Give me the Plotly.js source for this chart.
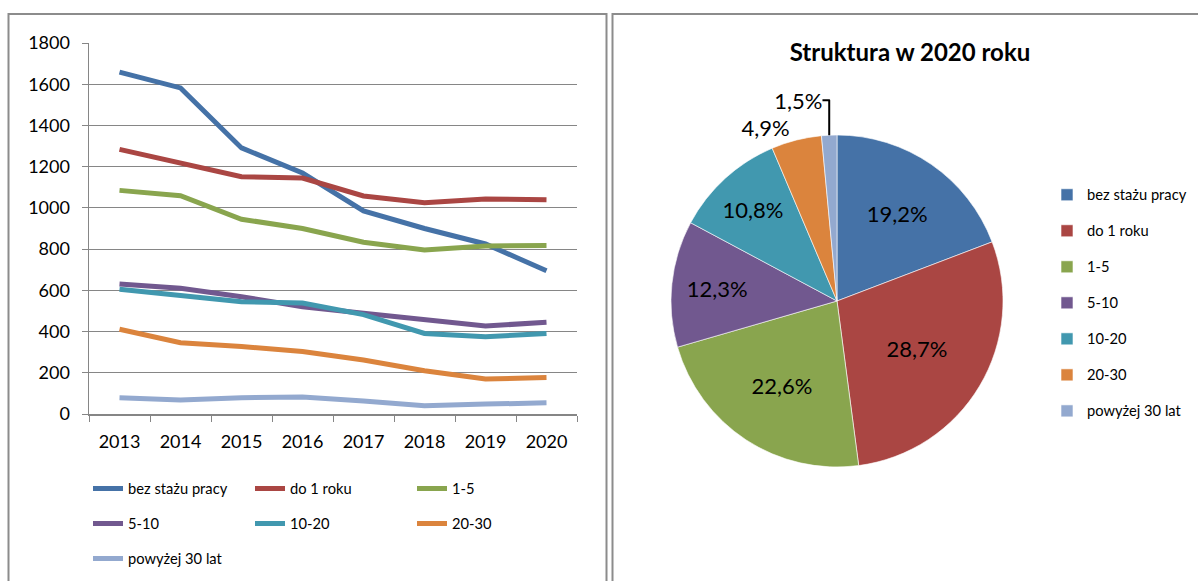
<!DOCTYPE html>
<html><head><meta charset="utf-8">
<script src="https://cdn.plot.ly/plotly-3.0.1.min.js"></script>
<style>html,body{margin:0;padding:0;background:#fff}#chart{width:1198px;height:581px}</style>
</head><body><div id="chart"></div>
<script>
const years = ['2013','2014','2015','2016','2017','2018','2019','2020'];
const seriesNames = ['bez stażu pracy','do 1 roku','1-5','5-10','10-20','20-30','powyżej 30 lat'];
const bezStazu  = [1659,1582,1291,1169,985,900,825,695];
const do1Roku   = [1284,1216,1151,1145,1058,1025,1043,1039];
const lata1_5   = [1085,1059,945,900,833,796,815,818];
const lata5_10  = [631,610,569,520,489,456,427,445];
const lata10_20 = [605,577,545,538,482,391,375,391];
const lata20_30 = [411,346,327,303,262,210,170,177];
const powyzej30 = [79,68,79,82,63,40,48,54];
const yTicks = [0,200,400,600,800,1000,1200,1400,1600,1800];
const pieTitle = 'Struktura w 2020 roku';

const seriesValues = [bezStazu,do1Roku,lata1_5,lata5_10,lata10_20,lata20_30,powyzej30];
const colors = ['#4572A7','#AA4643','#89A54E','#71588F','#4198AF','#DB843D','#93A9CF'];
const W = 1198, H = 581;
const px = v => v / W, py = v => 1 - v / H;
const FONT = 'Lato, "Open Sans", sans-serif';
const legendRows = ['legend','legend3','legend4'];

const traces = seriesValues.map((vals, i) => ({
  type: 'scatter', mode: 'lines', x: years, y: vals,
  name: seriesNames[i],
  line: {color: colors[i], width: 5},
  legend: legendRows[Math.floor(i / 3)], xaxis: 'x', yaxis: 'y'
}));

const lastIdx = years.length - 1;
traces.push({
  type: 'pie', sort: false, direction: 'clockwise', rotation: 0,
  labels: seriesNames.map(n => '<span style="font-size:14.7px">' + n + '</span><br> '),
  values: seriesValues.map(v => v[lastIdx]),
  marker: {colors: colors, line: {color: '#ffffff', width: 0.6}},
  texttemplate: '%{percent:.1%}',
  textposition: 'auto', insidetextorientation: 'horizontal',
  textfont: {size: 22, color: '#000000', family: FONT},
  outsidetextfont: {size: 22, color: '#000000', family: FONT},
  domain: {x: [px(837-166), px(837+166)], y: [1-(301+166)/H, 1-(301-166)/H]},
  legend: 'legend2', showlegend: true
});

const rowLegend = (yTop) => ({orientation: 'h', x: px(88), xanchor: 'left', y: py(yTop), yanchor: 'middle',
  entrywidth: 117, entrywidthmode: 'pixels', font: {size: 14.7}, traceorder: 'normal', bgcolor: 'rgba(0,0,0,0)'});

const layout = {
  width: W, height: H, margin: {l:0, r:0, t:0, b:0},
  paper_bgcolor: '#ffffff', plot_bgcolor: '#ffffff',
  separators: ', ',
  font: {family: FONT, color: '#000000', size: 14},
  title: {text: pieTitle, x: px(910), xanchor: 'center', y: py(53), yanchor: 'middle',
          font: {family: FONT, size: 24, weight: 'bold', color: '#000000'}},
  xaxis: {domain: [px(89), px(577)], type: 'category', range: [-0.5, 7.5], tickson: 'boundaries',
          ticks: 'outside', ticklen: 6, tickcolor: '#868686', showline: true, linecolor: '#868686', linewidth: 1.5,
          showgrid: false, zeroline: false, tickfont: {size: 18}, ticklabelstandoff: 11, fixedrange: true},
  yaxis: {domain: [py(414), py(43)], range: [0,1800], tickvals: yTicks, ticktext: yTicks.map(String),
          ticks: 'outside', ticklen: 6, tickcolor: '#868686', showline: true, linecolor: '#868686', linewidth: 1.5,
          showgrid: true, gridcolor: '#868686', gridwidth: 1.2, zeroline: false,
          tickfont: {size: 18}, ticklabelstandoff: 8, fixedrange: true},
  legend: rowLegend(489),
  legend3: rowLegend(524),
  legend4: rowLegend(559),
  legend2: {orientation: 'v', x: px(1047), xanchor: 'left', y: py(180), yanchor: 'top',
            valign: 'top', font: {size: 12.7}, bgcolor: 'rgba(0,0,0,0)'},
  shapes: [
    {type: 'rect', xref: 'paper', yref: 'paper', x0: px(8.5), x1: px(606.5), y0: -0.1, y1: py(14),
     line: {color: '#8c8c8c', width: 2}},
    {type: 'rect', xref: 'paper', yref: 'paper', x0: px(612.5), x1: 1.1, y0: -0.1, y1: py(14),
     line: {color: '#8c8c8c', width: 2}}
  ],
  showlegend: true
};

Plotly.newPlot('chart', traces, layout, {displayModeBar: false, staticPlot: true});
</script></body></html>
